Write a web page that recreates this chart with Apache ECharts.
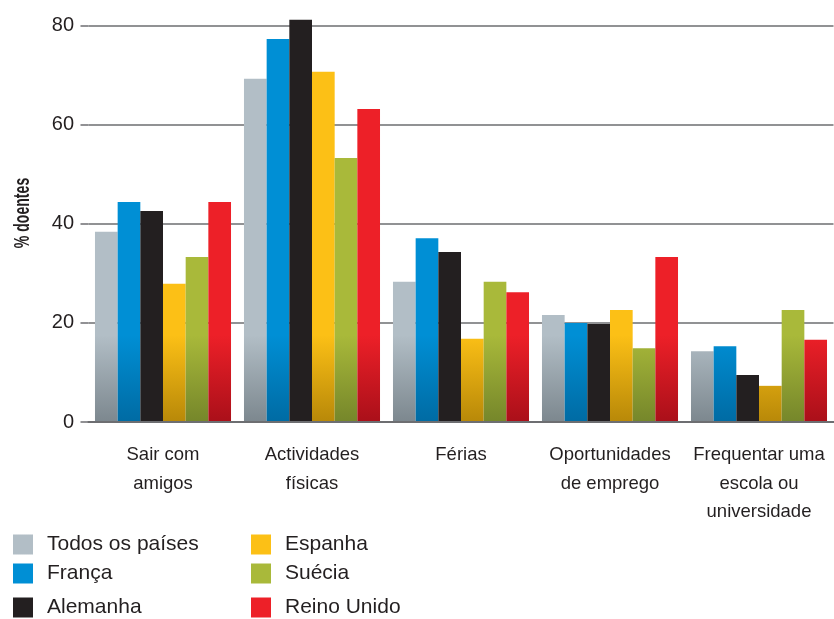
<!DOCTYPE html>
<html><head><meta charset="utf-8">
<script src="https://cdn.jsdelivr.net/npm/echarts@6/dist/echarts.min.js"></script>
<style>html,body{margin:0;padding:0;background:#fff}#c{width:834px;height:619px}</style>
</head><body><div id="c"></div>
<script>
var categories = ['Sair com\namigos', 'Actividades\nfísicas', 'Férias', 'Oportunidades\nde emprego', 'Frequentar uma\nescola ou\nuniversidade'];
var seriesNames = ['Todos os países', 'França', 'Alemanha', 'Espanha', 'Suécia', 'Reino Unido'];
var todos = [38.4, 69.3, 28.3, 21.6, 14.3];
var franca = [44.4, 77.3, 37.1, 20.0, 15.3];
var alemanha = [42.6, 81.2, 34.3, 19.8, 9.5];
var espanha = [27.9, 70.7, 16.8, 22.6, 7.3];
var suecia = [33.3, 53.3, 28.3, 14.9, 22.6];
var reinoUnido = [44.4, 63.2, 26.2, 33.3, 16.6];
var yTicks = [0, 20, 40, 60, 80];

var values = [todos, franca, alemanha, espanha, suecia, reinoUnido];
var topColors = ['#b2bec6', '#008fd5', '#231f20', '#fcc016', '#a9b93a', '#ed2028'];
var botColors = ['#7b868d', '#006aa2', '#231f20', '#b68708', '#74852a', '#a80f19'];
var FONT = '"Liberation Sans", Arial, sans-serif';

function grad(i) {
  return {type: 'linear', x: 0, y: 335, x2: 0, y2: 424, global: true,
    colorStops: [{offset: 0, color: topColors[i]}, {offset: 1, color: botColors[i]}]};
}

var series = seriesNames.map(function (n, i) {
  return {name: n, type: 'bar', data: values[i], barGap: '0%', barCategoryGap: '8.7%', clip: false,
    itemStyle: {color: grad(i)}, emphasis: {disabled: true}};
});

var legendLeft = [13, 13, 13, 251, 251, 251];
var legendTop = [534, 563, 597, 534, 563, 597];
var legends = seriesNames.map(function (n, i) {
  return {data: [n], left: legendLeft[i], top: legendTop[i], orient: 'vertical',
    itemWidth: 20, itemHeight: 20, padding: 0, icon: 'rect', selectedMode: false,
    textStyle: {fontFamily: FONT, fontSize: 21, color: '#231f20', lineHeight: 20, padding: [0, 0, 0, 9]}};
});

var chart = echarts.init(document.getElementById('c'));
chart.setOption({
  animation: false,
  grid: {left: 88.5, right: 0.5, top: 25.7, bottom: 197},
  xAxis: {type: 'category', data: categories, z: 5,
    axisLine: {show: true, lineStyle: {color: '#6d6e71', width: 2}},
    axisTick: {show: false},
    axisLabel: {fontFamily: FONT, fontSize: 18.5, color: '#231f20', lineHeight: 28.5, margin: 19, interval: 0}},
  yAxis: {type: 'value', min: 0, max: 80, interval: 20,
    axisLine: {show: false},
    axisTick: {show: true, length: 8, lineStyle: {color: '#6d6e71', width: 1.5}},
    splitLine: {lineStyle: {color: '#6d6e71', width: 1.5}},
    axisLabel: {fontFamily: FONT, fontSize: 20, color: '#231f20', margin: 14.5,
      formatter: function (v) { return yTicks.indexOf(v) >= 0 ? String(v) : ''; }}},
  legend: legends,
  graphic: [{type: 'text', x: 23, y: 213, rotation: Math.PI / 2, scaleX: 0.64,
    style: {text: '% doentes', fontFamily: FONT, fontWeight: 'bold', fontSize: 22, fill: '#231f20',
      align: 'center', verticalAlign: 'middle'}}],
  series: series
});
</script></body></html>
